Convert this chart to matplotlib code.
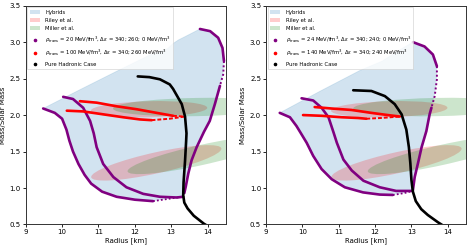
import matplotlib
matplotlib.use("Agg")
import matplotlib.pyplot as plt
import numpy as np
from matplotlib.patches import Ellipse, Patch
from matplotlib.lines import Line2D

# ---------------- LEFT PANEL DATA ----------------
L_hadronic_R = [12.08, 12.4, 12.69, 12.96, 13.05, 13.29, 13.38, 13.42, 13.41, 13.38, 13.34, 13.33, 13.36, 13.45, 13.62, 13.9, 14.1]
L_hadronic_M = [2.53, 2.52, 2.49, 2.42, 2.36, 2.15, 1.98, 1.75, 1.64, 1.37, 1.08, 0.9, 0.8, 0.72, 0.62, 0.51, 0.45]

L_purpleA_R = [9.48, 9.8, 10.0, 10.12, 10.2, 10.3, 10.45, 10.62, 10.8, 11.1, 11.5, 12.0, 12.5]
L_purpleA_M = [2.09, 2.03, 1.95, 1.80, 1.65, 1.5, 1.33, 1.18, 1.06, 0.95, 0.88, 0.84, 0.82]
L_purpleA_tail_R = [12.5, 12.9, 13.3]
L_purpleA_tail_M = [0.82, 0.85, 0.88]

L_purpleB_R = [10.03, 10.3, 10.58, 10.77, 10.87, 10.95, 11.13, 11.41, 11.77, 12.23, 12.69, 13.15, 13.33]
L_purpleB_M = [2.25, 2.22, 2.10, 1.92, 1.75, 1.56, 1.33, 1.15, 1.01, 0.92, 0.88, 0.87, 0.88]

L_purpleC_R = [13.79, 14.07, 14.29, 14.41, 14.45]
L_purpleC_M = [3.18, 3.15, 3.06, 2.92, 2.74]
L_purpleC_sparse_R = [14.45, 14.43, 14.34]
L_purpleC_sparse_M = [2.74, 2.56, 2.40]
L_purpleC_low_R = [14.34, 14.2, 14.06, 13.9, 13.7, 13.56, 13.47, 13.4, 13.36]
L_purpleC_low_M = [2.40, 2.15, 1.92, 1.77, 1.56, 1.38, 1.2, 1.02, 0.93]

L_redU_R = [10.49, 10.95, 11.5, 12.05, 12.6, 13.05]
L_redU_M = [2.19, 2.17, 2.12, 2.08, 2.03, 1.99]
L_redU_dash_R = [13.05, 13.38]
L_redU_dash_M = [1.99, 1.98]
L_redL_R = [10.13, 10.58, 11.13, 11.68, 12.14, 12.46]
L_redL_M = [2.06, 2.05, 2.01, 1.97, 1.94, 1.93]
L_redL_dash_R = [12.46, 12.96, 13.38]
L_redL_dash_M = [1.93, 1.95, 1.98]

L_hyb_top_R = [9.48, 10.5, 11.5, 12.4, 12.9, 13.05, 13.2, 13.4, 13.79]
L_hyb_top_M = [2.09, 2.35, 2.6, 2.82, 2.91, 2.98, 3.03, 3.08, 3.18]

L_label_purple = r"$\rho_{\rm trans}$ = 20 MeV/fm$^3$, $\Delta\epsilon$ = 340; 260; 0 MeV/fm$^3$"
L_label_red = r"$\rho_{\rm trans}$ = 100 MeV/fm$^3$, $\Delta\epsilon$ = 340; 260 MeV/fm$^3$"

# ---------------- RIGHT PANEL DATA ----------------
R_hadronic_R = [11.4, 11.9, 12.27, 12.54, 12.73, 12.86, 12.93, 12.97, 13.0, 13.04, 13.12, 13.27, 13.45, 13.73, 13.95]
R_hadronic_M = [2.34, 2.33, 2.26, 2.15, 2.01, 1.8, 1.56, 1.34, 1.11, 0.95, 0.82, 0.71, 0.63, 0.53, 0.46]

R_purpleA_R = [9.38, 9.66, 9.84, 9.95, 10.12, 10.3, 10.53, 10.81, 11.17, 11.67, 12.13, 12.49]
R_purpleA_M = [2.03, 1.97, 1.85, 1.76, 1.62, 1.44, 1.26, 1.12, 1.01, 0.94, 0.91, 0.905]
R_purpleA_tail_R = [12.49, 12.8, 13.04]
R_purpleA_tail_M = [0.905, 0.93, 0.96]

R_purpleB_R = [9.98, 10.3, 10.53, 10.72, 10.86, 10.95, 11.13, 11.36, 11.68, 12.13, 12.58, 13.0]
R_purpleB_M = [2.23, 2.2, 2.10, 1.97, 1.76, 1.62, 1.39, 1.24, 1.10, 1.01, 0.96, 0.96]

R_purpleC_R = [13.04, 13.36, 13.59, 13.7]
R_purpleC_M = [3.0, 2.94, 2.83, 2.67]
R_purpleC_sparse_R = [13.7, 13.7, 13.64, 13.55]
R_purpleC_sparse_M = [2.67, 2.49, 2.26, 2.1]
R_purpleC_low_R = [13.55, 13.5, 13.41, 13.28, 13.18, 13.09, 13.04]
R_purpleC_low_M = [2.1, 2.01, 1.78, 1.56, 1.34, 1.15, 0.97]

R_redU_R = [10.34, 10.8, 11.35, 11.9, 12.35, 12.68]
R_redU_M = [2.11, 2.09, 2.07, 2.03, 2.0, 1.98]
R_redU_dash_R = [12.68]
R_redU_dash_M = [1.98]
R_redL_R = [10.02, 10.53, 11.08, 11.53, 11.76]
R_redL_M = [2.0, 1.99, 1.97, 1.96, 1.95]
R_redL_dash_R = [11.76, 12.17, 12.68]
R_redL_dash_M = [1.95, 1.96, 1.98]

R_hyb_top_R = [9.38, 10.5, 11.58, 12.2, 12.35, 12.7, 13.04]
R_hyb_top_M = [2.03, 2.33, 2.61, 2.74, 2.79, 2.9, 3.0]

R_label_purple = r"$\rho_{\rm trans}$ = 24 MeV/fm$^3$, $\Delta\epsilon$ = 340; 240; 0 MeV/fm$^3$"
R_label_red = r"$\rho_{\rm trans}$ = 140 MeV/fm$^3$, $\Delta\epsilon$ = 340; 240 MeV/fm$^3$"

# ---------------- OBSERVATIONAL ELLIPSES ----------------
riley_centres = [(12.39, 2.08), (12.59, 1.345)]
riley_major = [(1.6, 0.02), (1.79, 0.195)]
riley_minor = [0.11, 0.146]
miller_centres = [(13.7, 2.11), (13.85, 1.455)]
miller_major = [(2.3, 0.02), (2.05, 0.225)]
miller_minor = [0.125, 0.14]

PURPLE = "purple"
LW = 1.9


def add_ellipse(ax, c, major, minor, color):
    a = np.hypot(*major)
    ang = np.degrees(np.arctan2(major[1], major[0]))
    e = Ellipse(c, 2 * a, 2 * minor, angle=ang, facecolor=color, alpha=0.2,
                edgecolor="none", zorder=2)
    ax.add_patch(e)


def line(ax, x, y, color, lw=LW, ls="-", z=4):
    ax.plot(x, y, color=color, lw=lw, ls=ls, zorder=z,
            solid_capstyle="round", solid_joinstyle="round")


def panel(ax, d):
    poly_R = (list(d["A_R"]) + list(d["At_R"]) + list(d["Cl_R"][::-1]) + list(d["Cs_R"][::-1])
              + list(d["C_R"][::-1]) + list(d["top_R"][::-1]))
    poly_M = (list(d["A_M"]) + list(d["At_M"]) + list(d["Cl_M"][::-1]) + list(d["Cs_M"][::-1])
              + list(d["C_M"][::-1]) + list(d["top_M"][::-1]))
    ax.fill(poly_R, poly_M, color="tab:blue", alpha=0.2, lw=0, zorder=1)
    ax.plot(d["top_R"], d["top_M"], color="tab:blue", alpha=0.15, lw=0.6, zorder=1)

    for c, mj, mn in zip(riley_centres, riley_major, riley_minor):
        add_ellipse(ax, c, mj, mn, "red")
    for c, mj, mn in zip(miller_centres, miller_major, miller_minor):
        add_ellipse(ax, c, mj, mn, "green")

    dot = (0, (1.0, 1.2))
    line(ax, d["A_R"], d["A_M"], PURPLE)
    line(ax, d["At_R"], d["At_M"], PURPLE, lw=1.3, ls=dot)
    line(ax, d["B_R"], d["B_M"], PURPLE)
    line(ax, d["C_R"], d["C_M"], PURPLE)
    line(ax, d["Cs_R"], d["Cs_M"], PURPLE, lw=1.4, ls=dot)
    line(ax, d["Cl_R"], d["Cl_M"], PURPLE)
    line(ax, d["rU_R"], d["rU_M"], "red", z=5)
    if len(d["rUd_R"]) > 1:
        line(ax, d["rUd_R"], d["rUd_M"], "red", lw=1.4, ls=(0, (2, 1)), z=5)
    line(ax, d["rL_R"], d["rL_M"], "red", z=5)
    line(ax, d["rLd_R"], d["rLd_M"], "red", lw=1.4, ls=(0, (2, 1)), z=5)
    line(ax, d["h_R"], d["h_M"], "black", z=6)

    ax.set_xlim(9, 14.5)
    ax.set_ylim(0.5, 3.5)
    ax.set_xticks([9, 10, 11, 12, 13, 14])
    ax.set_yticks([0.5, 1.0, 1.5, 2.0, 2.5, 3.0, 3.5])
    ax.tick_params(labelsize=5, length=2, width=0.6, pad=1.5)
    for s in ax.spines.values():
        s.set_linewidth(0.7)
        s.set_color("#333333")
    ax.set_xlabel("Radius [km]", fontsize=5, labelpad=1.5)
    ax.set_ylabel("Mass/Solar Mass", fontsize=5, labelpad=2.5)

    handles = [
        Patch(facecolor="tab:blue", alpha=0.2, label="Hybrids"),
        Patch(facecolor="red", alpha=0.2, label="Riley et al."),
        Patch(facecolor="green", alpha=0.2, label="Miller et al."),
        Line2D([], [], ls="none", marker="o", ms=1.6, color=PURPLE, label=d["lp"]),
        Line2D([], [], ls="none", marker="o", ms=1.6, color="red", label=d["lr"]),
        Line2D([], [], ls="none", marker="o", ms=1.6, color="black", label="Pure Hadronic Case"),
    ]
    leg = ax.legend(handles=handles, loc="upper left", fontsize=3.8, frameon=True,
                    borderpad=0.45, labelspacing=0.62, handlelength=2.0, handletextpad=1.0,
                    borderaxespad=0.3, fancybox=False)
    leg.get_frame().set_linewidth(0.5)
    leg.get_frame().set_edgecolor("#cccccc")


fig = plt.figure(figsize=(4.69, 2.45), dpi=100)
axL = fig.add_axes([0.0548, 0.0837, 0.4266, 0.8933])
axR = fig.add_axes([0.567, 0.0837, 0.4266, 0.8933])

dL = dict(A_R=L_purpleA_R, A_M=L_purpleA_M, At_R=L_purpleA_tail_R, At_M=L_purpleA_tail_M,
          B_R=L_purpleB_R, B_M=L_purpleB_M, C_R=L_purpleC_R, C_M=L_purpleC_M,
          Cs_R=L_purpleC_sparse_R, Cs_M=L_purpleC_sparse_M, Cl_R=L_purpleC_low_R, Cl_M=L_purpleC_low_M,
          rU_R=L_redU_R, rU_M=L_redU_M, rUd_R=L_redU_dash_R, rUd_M=L_redU_dash_M,
          rL_R=L_redL_R, rL_M=L_redL_M, rLd_R=L_redL_dash_R, rLd_M=L_redL_dash_M,
          h_R=L_hadronic_R, h_M=L_hadronic_M, top_R=L_hyb_top_R, top_M=L_hyb_top_M,
          lp=L_label_purple, lr=L_label_red)
dR = dict(A_R=R_purpleA_R, A_M=R_purpleA_M, At_R=R_purpleA_tail_R, At_M=R_purpleA_tail_M,
          B_R=R_purpleB_R, B_M=R_purpleB_M, C_R=R_purpleC_R, C_M=R_purpleC_M,
          Cs_R=R_purpleC_sparse_R, Cs_M=R_purpleC_sparse_M, Cl_R=R_purpleC_low_R, Cl_M=R_purpleC_low_M,
          rU_R=R_redU_R, rU_M=R_redU_M, rUd_R=R_redU_dash_R, rUd_M=R_redU_dash_M,
          rL_R=R_redL_R, rL_M=R_redL_M, rLd_R=R_redL_dash_R, rLd_M=R_redL_dash_M,
          h_R=R_hadronic_R, h_M=R_hadronic_M, top_R=R_hyb_top_R, top_M=R_hyb_top_M,
          lp=R_label_purple, lr=R_label_red)

panel(axL, dL)
panel(axR, dR)

fig.savefig("out.png", dpi=100)
